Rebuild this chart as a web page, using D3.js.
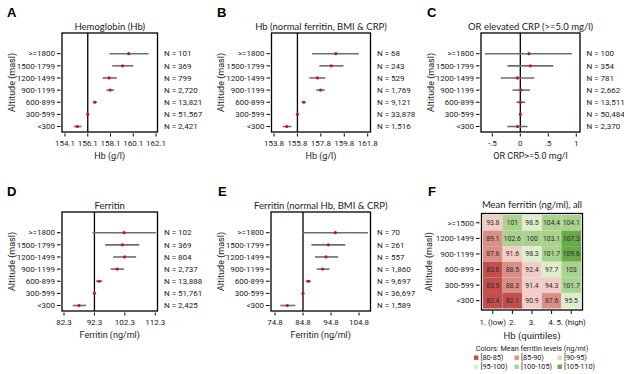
<!DOCTYPE html>
<html>
<head>
<meta charset="utf-8">
<script src="https://cdn.jsdelivr.net/npm/d3@7"></script>
<style>
  body { margin: 0; background: #fff; }
  svg { display: block; }
  .narrow { font-family: "Liberation Sans Narrow", "Roboto", sans-serif; fill: #222; }
  .ttl { font-family: "Lato", "Open Sans", sans-serif; fill: #222; }
  .letter { font-family: "Liberation Sans", Arial, sans-serif; font-weight: bold; fill: #000; }
</style>
</head>
<body>
<script>
var width = 624, height = 374;

// altitude groups, top to bottom
var altitudes = [">=1800", "1500-1799", "1200-1499", "900-1199", "600-899", "300-599", "<300"];

// A: Hemoglobin (Hb)
var hbEst = [159.70, 159.16, 157.98, 158.07, 156.72, 156.1, 155.19];
var hbLo  = [158.00, 158.25, 157.40, 157.75, 156.54, 156.1, 154.87];
var hbHi  = [161.45, 160.10, 158.65, 158.42, 156.90, 156.1, 155.55];
var hbN   = ["101", "369", "799", "2,720", "13,821", "51,567", "2,421"];
var hbTicks = [154.1, 156.1, 158.1, 160.1, 162.1];

// B: Hb (normal ferritin, BMI & CRP)
var hbNormEst = [159.08, 158.68, 157.51, 157.77, 156.34, 155.8, 154.89];
var hbNormLo  = [157.05, 157.68, 156.83, 157.40, 156.17, 155.8, 154.55];
var hbNormHi  = [161.04, 159.73, 158.19, 158.14, 156.51, 155.8, 155.29];
var hbNormN   = ["68", "243", "529", "1,769", "9,121", "33,878", "1,516"];
var hbNormTicks = [153.8, 155.8, 157.8, 159.8, 161.8];

// C: OR elevated CRP
var crpEst = [0.155, 0.18, -0.05, 0.01, 0.005, 0, -0.05];
var crpLo  = [-0.63, -0.23, -0.35, -0.14, -0.07, 0, -0.23];
var crpHi  = [0.92, 0.59, 0.25, 0.17, 0.09, 0, 0.13];
var crpN   = ["100", "354", "781", "2,662", "13,511", "50,484", "2,370"];
var crpTicks = [-0.5, 0, 0.5, 1];
var crpTickLabels = ["-.5", "0", ".5", "1"];

// D: Ferritin
var ferEst = [102.08, 101.5, 102.2, 99.8, 93.84, 92.3, 87.25];
var ferLo  = [91.64, 95.8, 98.45, 97.6, 92.85, 92.3, 85.16];
var ferHi  = [112.5, 107.0, 106.0, 102.0, 94.94, 92.3, 89.55];
var ferN   = ["102", "369", "804", "2,737", "13,888", "51,761", "2,425"];
var ferTicks = [82.3, 92.3, 102.3, 112.3];

// E: Ferritin (normal Hb, BMI & CRP)
var ferNormEst = [96.35, 93.85, 93.0, 91.8, 86.7, 84.8, 79.2];
var ferNormLo  = [84.7, 87.8, 89.1, 89.7, 85.75, 84.8, 76.7];
var ferNormHi  = [108.0, 99.9, 97.4, 94.3, 87.65, 84.8, 82.06];
var ferNormN   = ["70", "261", "557", "1,860", "9,697", "36,697", "1,589"];
var ferNormTicks = [74.8, 84.8, 94.8, 104.8];

// F: mean ferritin by altitude x Hb quintile
var heatRows = [">=1500", "1200-1499", "900-1199", "600-899", "300-599", "<300"];
var heatCols = ["1. (low)", "2.", "3.", "4.", "5. (high)"];
var heatVals = [
  [93.8, 101, 98.5, 104.4, 104.1],
  [89.1, 102.6, 100, 103.1, 107.3],
  [87.6, 91.6, 98.3, 101.7, 109.6],
  [83.6, 88.5, 92.4, 97.7, 103],
  [83.5, 88.3, 91.4, 94.3, 101.7],
  [82.4, 82.1, 90.9, 87.6, 95.5]
];
var legendLabels = ["[80-85)", "[85-90)", "[90-95)", "[95-100)", "[100-105)", "[105-110)"];
var legendBreaks = [85, 90, 95, 100, 105];
var heatColors = ["#c24e4e", "#da8f86", "#f1cdc6", "#deedcb", "#aad28f", "#68a948"];

var svg = d3.select("body").append("svg")
  .attr("width", width).attr("height", height);

var panels = [
  {letter: "A", title: "Hemoglobin (Hb)", xTitle: "Hb (g/l)", est: hbEst, lo: hbLo, hi: hbHi, n: hbN,
   ticks: hbTicks, tickLabels: null, ref: 156.1, x0: 62, x1: 157.5, t0: 65, t1: 156, top: 33, lx: 7},
  {letter: "B", title: "Hb (normal ferritin, BMI & CRP)", xTitle: "Hb (g/l)", est: hbNormEst, lo: hbNormLo, hi: hbNormHi, n: hbNormN,
   ticks: hbNormTicks, tickLabels: null, ref: 155.8, x0: 271.5, x1: 370.5, t0: 274, t1: 367.7, top: 33, lx: 217},
  {letter: "C", title: "OR elevated CRP (>=5.0 mg/l)", xTitle: "OR CRP>=5.0 mg/l", est: crpEst, lo: crpLo, hi: crpHi, n: crpN,
   ticks: crpTicks, tickLabels: crpTickLabels, ref: 0, x0: 481, x1: 580, t0: 492.3, t1: 576.3, top: 33, lx: 427},
  {letter: "D", title: "Ferritin", xTitle: "Ferritin (ng/ml)", est: ferEst, lo: ferLo, hi: ferHi, n: ferN,
   ticks: ferTicks, tickLabels: null, ref: 92.3, x0: 62, x1: 157.5, t0: 64, t1: 155.3, top: 212, lx: 7},
  {letter: "E", title: "Ferritin (normal Hb, BMI & CRP)", xTitle: "Ferritin (ng/ml)", est: ferNormEst, lo: ferNormLo, hi: ferNormHi, n: ferNormN,
   ticks: ferNormTicks, tickLabels: null, ref: 84.8, x0: 271, x1: 370.5, t0: 275, t1: 359, top: 212, lx: 218}
];

var boxH = 99;

panels.forEach(function(p) {
  var g = svg.append("g");
  var bottom = p.top + boxH;

  var x = d3.scaleLinear()
    .domain([p.ticks[0], p.ticks[p.ticks.length - 1]])
    .range([p.t0, p.t1]);

  var y = d3.scalePoint()
    .domain(altitudes)
    .range([p.top + 20.7, p.top + 93.5]);

  // panel letter
  g.append("text").attr("class", "letter")
    .attr("x", p.lx).attr("y", p.top - 16.5)
    .style("font-size", "13px")
    .text(p.letter);

  // title
  g.append("text").attr("class", "ttl")
    .attr("x", (p.x0 + p.x1) / 2).attr("y", p.top - 3.5)
    .attr("text-anchor", "middle")
    .style("font-size", "9.5px")
    .text(p.title);

  // box
  g.append("rect")
    .attr("x", p.x0).attr("y", p.top)
    .attr("width", p.x1 - p.x0).attr("height", boxH)
    .style("fill", "none").style("stroke", "#000").style("stroke-width", 1.3);

  // reference line
  g.append("line")
    .attr("x1", x(p.ref)).attr("x2", x(p.ref))
    .attr("y1", p.top).attr("y2", bottom)
    .style("stroke", "#000").style("stroke-width", 1.3);

  // x ticks
  var xt = g.append("g").selectAll("g")
    .data(p.ticks)
    .enter().append("g");
  xt.append("line")
    .attr("x1", d => x(d)).attr("x2", d => x(d))
    .attr("y1", bottom + 1.5).attr("y2", bottom + 4.5)
    .style("stroke", "#000").style("stroke-width", 1);
  xt.append("text").attr("class", "narrow")
    .attr("x", d => x(d)).attr("y", bottom + 13.5)
    .attr("text-anchor", "middle")
    .style("font-size", "8px")
    .text((d, i) => p.tickLabels ? p.tickLabels[i] : d3.format(".1f")(d));

  // x title
  g.append("text").attr("class", "narrow")
    .attr("x", (p.x0 + p.x1) / 2).attr("y", bottom + 26.5)
    .attr("text-anchor", "middle")
    .style("font-size", "9px")
    .text(p.xTitle);

  // y title
  g.append("text").attr("class", "narrow")
    .attr("transform", "translate(" + (p.x0 - 47.5) + "," + (p.top + boxH / 2) + ") rotate(-90)")
    .attr("text-anchor", "middle")
    .style("font-size", "9px")
    .text("Altitude (masl)");

  // rows
  var rows = g.append("g").selectAll("g")
    .data(altitudes.map(function(a, i) {
      return {alt: a, est: p.est[i], lo: p.lo[i], hi: p.hi[i], n: p.n[i]};
    }))
    .enter().append("g");

  rows.append("line")
    .attr("x1", p.x0 - 5).attr("x2", p.x0 - 1.5)
    .attr("y1", d => y(d.alt)).attr("y2", d => y(d.alt))
    .style("stroke", "#000").style("stroke-width", 1);

  rows.append("text").attr("class", "narrow")
    .attr("x", p.x0 - 7).attr("y", d => y(d.alt))
    .attr("dy", "0.34em")
    .attr("text-anchor", "end")
    .style("font-size", "8px")
    .text(d => d.alt);

  rows.append("line")
    .attr("x1", d => x(d.lo)).attr("x2", d => x(d.hi))
    .attr("y1", d => y(d.alt)).attr("y2", d => y(d.alt))
    .style("stroke", "#6e6e6e").style("stroke-width", 1.6);

  rows.append("circle")
    .attr("cx", d => x(d.est)).attr("cy", d => y(d.alt))
    .attr("r", 1.6)
    .style("fill", "#c8102e");

  rows.append("text").attr("class", "narrow")
    .attr("x", p.x1 + 6.5).attr("y", d => y(d.alt))
    .attr("dy", "0.34em")
    .style("font-size", "8px")
    .text(d => "N = " + d.n);
});

// ---- F heatmap ----
var hf = svg.append("g");
var hx0 = 483, hx1 = 581, hy0 = 215, hy1 = 308.5;

var hx = d3.scaleBand().domain(heatCols).range([hx0, hx1]);
var hy = d3.scaleBand().domain(heatRows).range([hy0, hy1]);
var hcol = d3.scaleThreshold().domain(legendBreaks).range(heatColors);

hf.append("text").attr("class", "letter")
  .attr("x", 428).attr("y", 195.5)
  .style("font-size", "13px")
  .text("F");

hf.append("text").attr("class", "ttl")
  .attr("x", (hx0 + hx1) / 2).attr("y", 207.5)
  .attr("text-anchor", "middle")
  .style("font-size", "9.5px")
  .text("Mean ferritin (ng/ml), all");

var cells = [];
heatRows.forEach(function(r, i) {
  heatCols.forEach(function(c, j) {
    cells.push({row: r, col: c, v: heatVals[i][j]});
  });
});

hf.append("g").selectAll("rect")
  .data(cells)
  .enter().append("rect")
  .attr("x", d => hx(d.col)).attr("y", d => hy(d.row))
  .attr("width", hx.bandwidth()).attr("height", hy.bandwidth())
  .style("fill", d => hcol(d.v));

hf.append("g").selectAll("text")
  .data(cells)
  .enter().append("text").attr("class", "narrow")
  .attr("x", d => hx(d.col) + hx.bandwidth() / 2)
  .attr("y", d => hy(d.row) + hy.bandwidth() / 2)
  .attr("dy", "0.35em")
  .attr("text-anchor", "middle")
  .style("font-size", "6.8px")
  .style("fill", "#2a2a2a")
  .text(d => d.v);

hf.append("rect")
  .attr("x", hx0 - 1.5).attr("y", hy0 - 1.5)
  .attr("width", hx1 - hx0 + 3).attr("height", hy1 - hy0 + 3)
  .style("fill", "none").style("stroke", "#000").style("stroke-width", 1.3);

// y ticks + labels
hf.append("g").selectAll("line")
  .data(heatRows)
  .enter().append("line")
  .attr("x1", hx0 - 7).attr("x2", hx0 - 3.5)
  .attr("y1", d => hy(d) + hy.bandwidth() / 2).attr("y2", d => hy(d) + hy.bandwidth() / 2)
  .style("stroke", "#000").style("stroke-width", 1);

hf.append("g").selectAll("text")
  .data(heatRows)
  .enter().append("text").attr("class", "narrow")
  .attr("x", hx0 - 9).attr("y", d => hy(d) + hy.bandwidth() / 2)
  .attr("dy", "0.34em")
  .attr("text-anchor", "end")
  .style("font-size", "8px")
  .text(d => d);

hf.append("text").attr("class", "narrow")
  .attr("transform", "translate(" + (hx0 - 51) + "," + ((hy0 + hy1) / 2) + ") rotate(-90)")
  .attr("text-anchor", "middle")
  .style("font-size", "9px")
  .text("Altitude (masl)");

// x ticks + labels
hf.append("g").selectAll("line")
  .data(heatCols)
  .enter().append("line")
  .attr("x1", d => hx(d) + hx.bandwidth() / 2).attr("x2", d => hx(d) + hx.bandwidth() / 2)
  .attr("y1", hy1 + 2).attr("y2", hy1 + 5.5)
  .style("stroke", "#000").style("stroke-width", 1);

hf.append("g").selectAll("text")
  .data(heatCols)
  .enter().append("text").attr("class", "narrow")
  .attr("x", d => hx(d) + hx.bandwidth() / 2).attr("y", 324.5)
  .attr("text-anchor", "middle")
  .style("font-size", "8px")
  .text(d => d);

hf.append("text").attr("class", "narrow")
  .attr("x", (hx0 + hx1) / 2).attr("y", 339)
  .attr("text-anchor", "middle")
  .style("font-size", "9.5px")
  .text("Hb (quintiles)");

// legend
hf.append("text").attr("class", "narrow")
  .attr("x", 532).attr("y", 350.5)
  .attr("text-anchor", "middle")
  .style("font-size", "7.3px")
  .text("Colors: Mean ferritin levels (ng/ml)");

var legX = [474, 514.5, 557.5];
var leg = hf.append("g").selectAll("g")
  .data(legendLabels)
  .enter().append("g")
  .attr("transform", (d, i) => "translate(" + legX[i % 3] + "," + (357.7 + Math.floor(i / 3) * 9) + ")");
leg.append("rect")
  .attr("x", 0).attr("y", -2.2)
  .attr("width", 4.4).attr("height", 4.4)
  .style("fill", (d, i) => heatColors[i]);
leg.append("text").attr("class", "narrow")
  .attr("x", 6.5).attr("y", 0)
  .attr("dy", "0.35em")
  .style("font-size", "7.3px")
  .text(d => d);
</script>
</body>
</html>
